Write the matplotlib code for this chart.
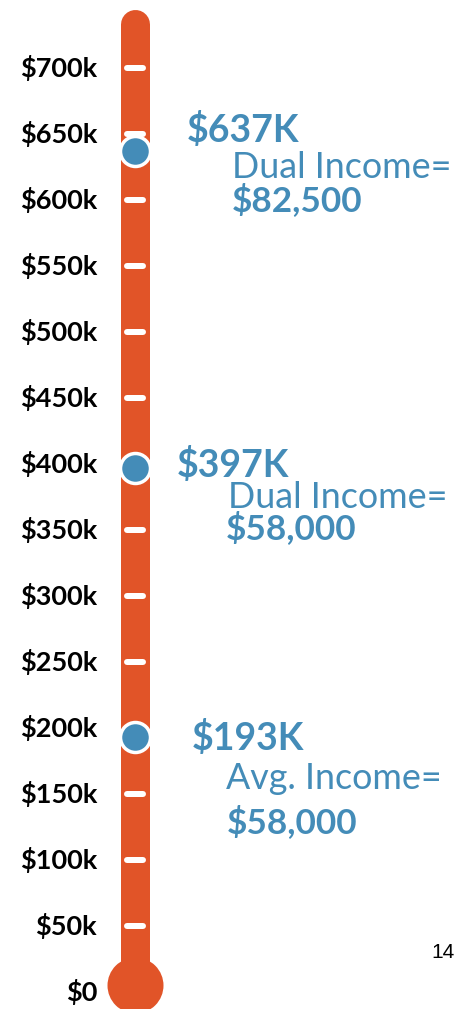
import matplotlib.pyplot as plt

# scale of the thermometer, in $k
tick_values = list(range(0, 701, 50))
tick_labels = ['$0'] + ['$%dk' % v for v in tick_values[1:]]

# home prices marked on the thermometer
home_values = [637, 397, 193]
home_labels = ['$637K', '$397K', '$193K']
income_kinds = ['Dual Income=', 'Dual Income=', 'Avg. Income=']
income_amounts = ['$82,500', '$58,000', '$58,000']

ORANGE = '#E15428'
BLUE = '#448CB8'
PX = 0.72  # points per pixel at dpi 100

fig = plt.figure(figsize=(4.58, 10.09), dpi=100)
ax = fig.add_axes([0, 0, 1, 1])
ax.set_xlim(0, 458)
ax.set_ylim(-12.9, 751.5)
ax.axis('off')

tube_x = 134.5
ax.plot([tube_x, tube_x], [0, 733], lw=29 * PX, color=ORANGE,
        solid_capstyle='round', zorder=1)
ax.plot(135, 5, 'o', ms=56 * PX, color=ORANGE, mec='none', zorder=1)

for v, lab in zip(tick_values, tick_labels):
    if v > 0:
        ax.plot([127, 143], [v, v], lw=6 * PX, color='white',
                solid_capstyle='round', zorder=2)
    ax.text(97, v, lab, ha='right', va='center', fontsize=19.5,
            fontweight='bold', family='Lato', color='black')

# label offsets from each dot, in pixels (dx, dy up)
big_off = [(52, 21), (42, 3), (57, -1)]
kind_off = [(97, -16), (93, -30), (92, -41)]
amount_off = [(97, -49), (91, -60), (92, -85)]

for i, v in enumerate(home_values):
    ax.plot(tube_x, v, 'o', ms=30 * PX, mfc=BLUE, mec='white', mew=2.5, zorder=3)
    for txt, off, size, weight in [(home_labels[i], big_off[i], 27, 'bold'),
                                   (income_kinds[i], kind_off[i], 25.8, 'normal'),
                                   (income_amounts[i], amount_off[i], 25.3, 'bold')]:
        ax.annotate(txt, xy=(tube_x, v), xytext=(off[0] * PX, off[1] * PX),
                    textcoords='offset points', ha='left', va='center',
                    fontsize=size, fontweight=weight, family='Lato', color=BLUE)

fig.text(455 / 458, 1 - 953 / 1009, '14', ha='right', va='center',
         fontsize=15, family='Liberation Sans', color='black')

fig.savefig('out.png', dpi=100)
